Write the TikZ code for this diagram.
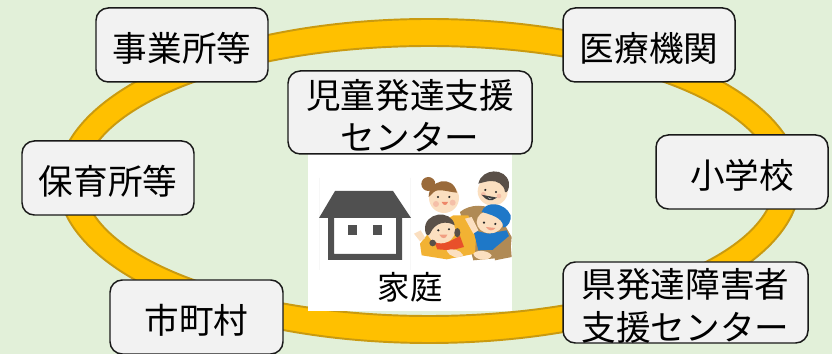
\documentclass[tikz,border=0pt]{standalone}
\usepackage{fontspec}
\setmainfont{Noto Sans CJK JP}
\definecolor{meadow}{HTML}{E2F0D9}
\definecolor{ringfill}{HTML}{FFC000}
\definecolor{ringedge}{HTML}{C99A10}
\definecolor{panel}{HTML}{F2F2F2}
\definecolor{roof}{HTML}{505050}
\definecolor{skin}{HTML}{FBDFC0}
\definecolor{cheek}{HTML}{F5BFA8}
\definecolor{darkhair}{HTML}{5A5048}
\definecolor{brownhair}{HTML}{9A6A3A}
\definecolor{coat}{HTML}{B08A55}
\definecolor{apron}{HTML}{F2B233}
\definecolor{capblue}{HTML}{1E78C8}
\definecolor{shirtred}{HTML}{E8502A}
\tikzset{
  x=0.02cm,y=-0.02cm,
  place/.style={draw=black!90,line width=0.85pt,fill=panel,rounded corners=7pt,inner sep=0pt},
  kanji/.style={font=\fontsize{19.7}{24.2}\selectfont,inner sep=0pt,align=center},
  caption/.style={font=\fontsize{18.4}{22}\selectfont,inner sep=0pt},
  eye/.style={fill=black!85,draw=none},
}
% A rounded box given by its pixel extent, its label set a little below the centre.
\newcommand{\placebox}[6]{%
  \node[place,minimum width=#4*0.02cm-#3*0.02cm,minimum height=#6*0.02cm-#5*0.02cm,anchor=center]
    (#1) at ({(#3+#4)/2},{(#5+#6)/2}) {};
  \node[kanji] (#1-label) at ([yshift=-1.8pt]#1.center) {#2};}
\begin{document}
\begin{tikzpicture}
\useasboundingbox (0,0) rectangle (832,354);
\clip (0,0) rectangle (832,354);
\fill[meadow] (0,0) rectangle (832,354);

% the ring that links the places
\path[fill=ringfill,even odd rule,draw=ringedge,line width=1.1pt]
  (429,181) ellipse [x radius=371,y radius=162]
  (429,181) ellipse [x radius=346,y radius=135];

% the home panel
\fill[white] (308,154) rectangle (512,311);

% house icon, with the hairline edges of its frame
\draw[black!3,line width=0.4pt] (319.3,178) -- (319.3,270) (410.7,178) -- (410.7,270);
\fill[roof] (335,191) -- (393,191) -- (411,218) -- (319,218) -- cycle;
\fill[roof,even odd rule] (328,218) rectangle (402,260) (334,218) rectangle (396,254);
\fill[roof] (348,225) rectangle (357,235);
\fill[roof] (373,225) rectangle (382,235);

% family
\begin{scope}[shift={(410,162)},x=0.00667cm,y=-0.00667cm]
  % father
  \fill[coat] (150,150) .. controls (180,125) and (230,125) .. (262,150) -- (305,225) -- (300,285) -- (190,295) -- cycle;
  \fill[skin] (248,88) ellipse [x radius=45,y radius=43];
  \fill[darkhair] (205,65) .. controls (215,18) and (287,15) .. (297,62) .. controls (299,80) and (291,95) .. (285,90)
     .. controls (283,68) and (262,55) .. (240,57) .. controls (225,59) and (212,63) .. (205,65) -- cycle;
  \fill[eye] (226,84) circle (3.5);
  \fill[eye] (258,90) circle (3.5);
  \fill[cheek] (220,97) circle (7) (267,102) circle (7);
  \draw[black!75,line width=0.9pt,fill=white] (222,102) .. controls (230,113) and (245,116) .. (254,108) -- cycle;
  % mother
  \fill[apron] (30,245) -- (70,195) -- (130,160) -- (175,160) -- (198,225) -- (195,275) -- (110,292) -- (35,280) -- cycle;
  \fill[brownhair] (55,66) circle (21);
  \fill[skin] (102,108) ellipse [x radius=45,y radius=45];
  \fill[brownhair] (56,105) .. controls (55,55) and (128,35) .. (141,92) .. controls (115,90) and (85,78) .. (72,90) .. controls (66,95) and (60,103) .. (56,105) -- cycle;
  \fill[eye] (84,105) circle (3.5);
  \fill[eye] (118,105) circle (3.5);
  \fill[cheek] (78,126) circle (9) (128,122) circle (9);
  \fill[shirtred!50!cheek] (95,120) .. controls (100,132) and (110,132) .. (114,120) -- cycle;
  % boy
  \fill[capblue] (190,205) -- (235,215) -- (290,205) -- (300,230) -- (282,262) -- (205,265) -- cycle;
  \fill[skin] (165,170) -- (185,165) -- (205,205) -- (190,215) -- cycle;
  \fill[skin] (240,180) ellipse [x radius=40,y radius=34];
  \fill[capblue] (215,150) .. controls (225,115) and (285,120) .. (302,160) .. controls (304,175) and (295,195) .. (280,197)
     .. controls (280,175) and (262,162) .. (215,150) -- cycle;
  \fill[eye] (222,182) circle (3.5);
  \fill[eye] (256,186) circle (3.5);
  \fill[cheek!70!shirtred] (228,195) .. controls (235,208) and (250,208) .. (256,198) -- cycle;
  % hands and brown sleeve at the lower right
  \fill[coat] (250,262) -- (300,220) -- (305,285) -- (255,295) -- cycle;
  \fill[skin] (190,275) .. controls (200,262) and (235,265) .. (245,280) .. controls (240,298) and (195,298) .. (190,275) -- cycle;
  % girl
  \fill[shirtred] (72,238) -- (115,240) -- (150,222) -- (162,255) -- (125,265) -- (82,262) -- cycle;
  \fill[skin] (93,205) ellipse [x radius=43,y radius=39];
  \fill[darkhair] (45,205) .. controls (40,150) and (125,140) .. (134,190) .. controls (110,175) and (75,180) .. (60,215) .. controls (55,225) and (47,220) .. (45,205) -- cycle;
  \fill[darkhair] (142,212) ellipse [x radius=9,y radius=14];
  \fill[darkhair] (68,243) ellipse [x radius=10,y radius=10];
  \fill[eye] (85,205) circle (3.5);
  \fill[eye] (117,202) circle (3.5);
  \fill[cheek!70!shirtred] (88,218) .. controls (95,232) and (108,232) .. (112,218) -- cycle;
  \fill[skin] (12,215) -- (32,205) -- (46,228) -- (30,238) -- cycle;
  \fill[skin] (110,265) .. controls (125,258) and (150,262) .. (160,280) .. controls (145,292) and (118,285) .. (110,265) -- cycle;
\end{scope}

\node[caption] (home) at (410,287) {家庭};

% places around the ring
\placebox{office}{事業所等}{96}{268}{8}{82}
\placebox{nursery}{保育所等}{22}{194}{141}{215}
\placebox{city}{市町村}{110}{283}{280}{354}
\placebox{clinic}{医療機関}{563}{735}{8}{82}
\placebox{school}{小学校}{656}{828}{135}{209}
\placebox{prefecture}{県発達障害者\\支援センター}{563}{808}{262}{343}
\placebox{centre}{児童発達支援\\センター}{288}{532}{71}{154}
\end{tikzpicture}
\end{document}
